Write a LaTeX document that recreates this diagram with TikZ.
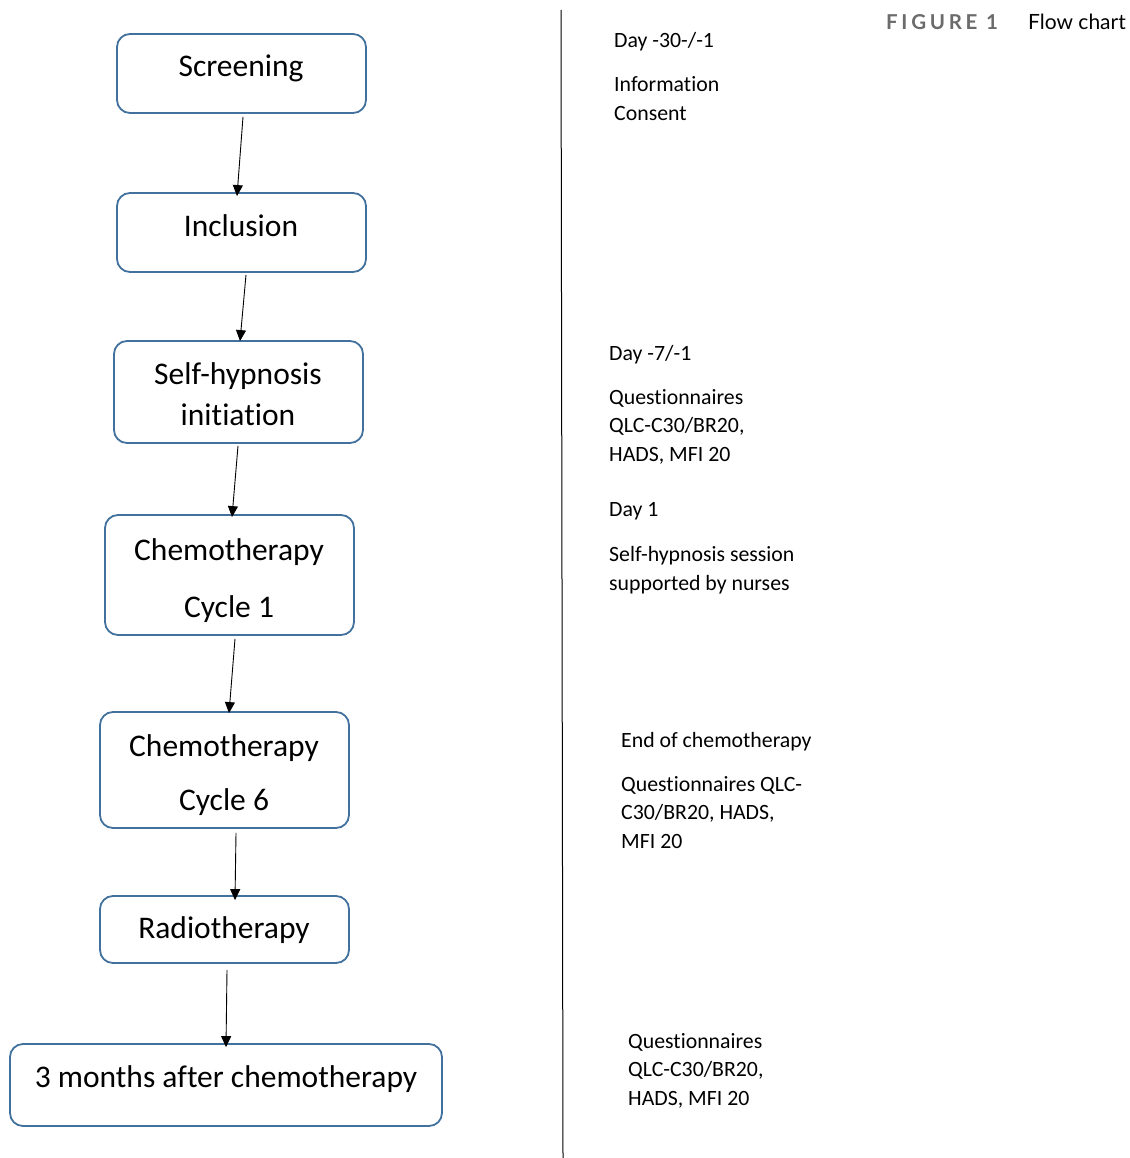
\documentclass[tikz,border=0pt]{standalone}
\usepackage{fontspec}
\setmainfont[Ligatures=NoCommon]{Carlito}
\newfontfamily\capfont{Lato}
\usetikzlibrary{arrows.meta}
\definecolor{boxblue}{HTML}{41719C}
\definecolor{capgray}{HTML}{6B6B6B}
\tikzset{
  box/.style={draw=boxblue, line width=1.8pt, rounded corners=13pt, inner sep=0pt},
  boxtext/.style={font=\fontsize{31.5}{36}\selectfont, text height=0.72em, text depth=0.2em, inner sep=0pt, anchor=center},
  side/.style={font=\fontsize{21.8}{26}\selectfont, text height=0.72em, text depth=0.2em, inner sep=0pt, anchor=west},
  arr/.style={-{Triangle[length=11pt,width=10pt]}, line width=0.9pt},
}
\begin{document}
\begin{tikzpicture}[x=1pt,y=-1pt]
\useasboundingbox (0,0) rectangle (1129,1158);
% boxes
\node[box, minimum width=249pt, minimum height=79pt] (scr) at (241.5,73.5) {};
\node[box, minimum width=249pt, minimum height=79pt] (inc) at (241.5,232.5) {};
\node[box, minimum width=249pt, minimum height=102pt] (shi) at (238.5,392) {};
\node[box, minimum width=249pt, minimum height=120pt] (ch1) at (229.5,575) {};
\node[box, minimum width=249pt, minimum height=116pt] (ch6) at (224.5,770) {};
\node[box, minimum width=249pt, minimum height=67pt] (rad) at (224.5,929.5) {};
\node[box, minimum width=432pt, minimum height=82pt] (mon) at (226,1085) {};
% box texts
\node[boxtext] (t1) at (241,74) {Screening};
\node[boxtext] (t2) at (241,234) {Inclusion};
\node[boxtext] (t3a) at (238,382) {Self-hypnosis};
\node[boxtext] (t3b) at (238,423) {initiation};
\node[boxtext] (t4a) at (229,558) {Chemotherapy};
\node[boxtext] (t4b) at (229,615) {Cycle 1};
\node[boxtext] (t5a) at (224,754) {Chemotherapy};
\node[boxtext] (t5b) at (224,808) {Cycle 6};
\node[boxtext] (t6) at (224,936) {Radiotherapy};
\node[boxtext] (t7) at (226,1085) {3 months after chemotherapy};
% arrows
\draw[arr] ([xshift=1.5pt,yshift=-3pt]scr.south) -- ([xshift=-4.5pt,yshift=-4pt]inc.north);
\draw[arr] ([xshift=4.5pt,yshift=-2pt]inc.south) -- ([xshift=1.5pt,yshift=-1pt]shi.north);
\draw[arr] ([xshift=-0.5pt,yshift=-2pt]shi.south) -- ([xshift=2.5pt,yshift=-3pt]ch1.north);
\draw[arr] ([xshift=5.5pt,yshift=-3pt]ch1.south) -- ([xshift=4.5pt,yshift=-2pt]ch6.north);
\draw[arr] ([xshift=11.5pt,yshift=-4pt]ch6.south) -- ([xshift=10.5pt,yshift=-5pt]rad.north);
\draw[arr] ([xshift=2.5pt,yshift=-6pt]rad.south) -- ([yshift=-4pt]mon.north);
% vertical divider
\coordinate (vtop) at (561,10);
\coordinate (vbot) at (563,1158);
\draw[line width=1pt] (vtop) -- (vbot);
% side texts
\node[side] (s1) at (614,45) {Day -30-/-1};
\node[side] (s2) at (614,89) {Information};
\node[side] (s3) at (614,118) {Consent};
\node[side] (s4) at (609,358) {Day -7/-1};
\node[side] (s5) at (609,402) {Questionnaires};
\node[side] (s6) at (609,430) {QLC-C30/BR20,};
\node[side] (s7) at (609,459) {HADS, MFI 20};
\node[side] (s8) at (609,514) {Day 1};
\node[side] (s9) at (609,559) {Self-hypnosis session};
\node[side] (s10) at (609,588) {supported by nurses};
\node[side] (s11) at (621,745) {End of chemotherapy};
\node[side] (s12) at (621,789) {Questionnaires QLC-};
\node[side] (s13) at (621,817) {C30/BR20, HADS,};
\node[side] (s14) at (621,846) {MFI 20};
\node[side] (s15) at (628,1046) {Questionnaires};
\node[side] (s16) at (628,1074) {QLC-C30/BR20,};
\node[side] (s17) at (628,1103) {HADS, MFI 20};
% caption
\node[anchor=west, inner sep=0pt, text=capgray, font=\capfont\bfseries\fontsize{20.5}{24}\selectfont, text height=0.72em, text depth=0.2em] (cap1) at (886,27) {\addfontfeatures{LetterSpace=18}FIGURE 1};
\node[anchor=east, inner sep=0pt, font=\capfont\fontsize{21}{25}\selectfont, text height=0.72em, text depth=0.2em] (cap2) at (1126,27) {Flow chart};
\end{tikzpicture}
\end{document}
